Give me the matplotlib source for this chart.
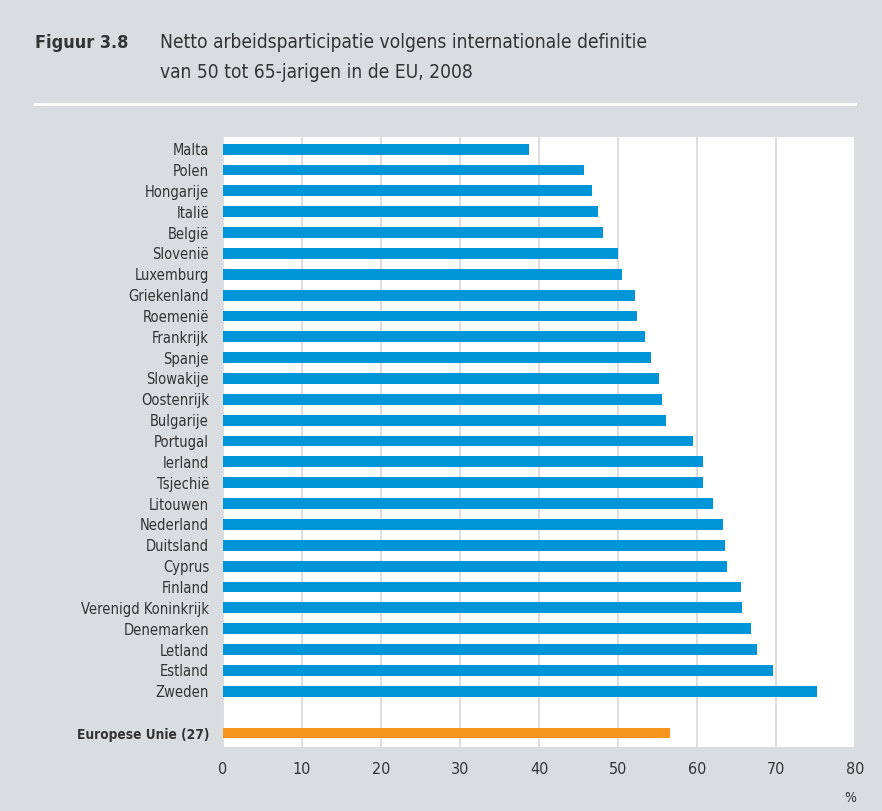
import numpy as np
import matplotlib.pyplot as plt

landen = ["Malta", "Polen", "Hongarije", "Italië", "België", "Slovenië", "Luxemburg",
          "Griekenland", "Roemenië", "Frankrijk", "Spanje", "Slowakije", "Oostenrijk",
          "Bulgarije", "Portugal", "Ierland", "Tsjechië", "Litouwen", "Nederland",
          "Duitsland", "Cyprus", "Finland", "Verenigd Koninkrijk", "Denemarken",
          "Letland", "Estland", "Zweden"]
waarden = [38.7, 45.7, 46.7, 47.5, 48.1, 50.0, 50.5, 52.2, 52.4, 53.4, 54.2, 55.2, 55.6,
           56.1, 59.5, 60.8, 60.8, 62.0, 63.3, 63.5, 63.8, 65.6, 65.7, 66.8, 67.6, 69.6, 75.2]
eu_label = "Europese Unie (27)"
eu_waarde = 56.6
xticks = [0, 10, 20, 30, 40, 50, 60, 70, 80]

bg = "#D9DDE0"
blauw = "#0095D9"
oranje = "#F7941D"
tekst = "#333333"

plt.rcParams['font.family'] = ['DejaVu Sans']
plt.rcParams['font.stretch'] = 'condensed'

fig = plt.figure(figsize=(8.82, 8.11), dpi=100, facecolor=bg)
# plot area in pixels: x 223-855, y 137-747
ax = fig.add_axes([223/882, 1 - 747/811, (855-223)/882, (747-137)/811])
ax.set_facecolor("white")

y = np.arange(len(landen))
ax.barh(y, waarden, height=0.52, color=blauw, zorder=3)
ax.barh([28], [eu_waarde], height=0.52, color=oranje, zorder=3)

ax.set_xlim(0, 80)
ax.set_ylim(28.67, -0.58)
ax.set_xticks(xticks)
ax.set_xticklabels([str(t) for t in xticks], fontsize=11.5, color=tekst)
ax.set_yticks(list(y) + [28])
ax.set_yticklabels(landen + [eu_label], fontsize=10.5, color=tekst)
ax.get_yticklabels()[-1].set_fontweight("bold")
ax.get_yticklabels()[-1].set_fontsize(9.8)
ax.tick_params(axis='y', length=0, pad=10)
ax.tick_params(axis='x', length=0, pad=11)
ax.grid(axis='x', color="#DCDEE0", linewidth=1.4, zorder=0)
for s in ax.spines.values():
    s.set_visible(False)

fig.text(850/882, 1 - 798/811, "%", fontsize=10, color=tekst, ha='center', va='center')

fig.text(35/882, 1 - 43/811, "Figuur 3.8", fontsize=13, fontweight='bold',
         color=tekst, va='center')
fig.text(160/882, 1 - 43/811, "Netto arbeidsparticipatie volgens internationale definitie",
         fontsize=13.8, color=tekst, va='center')
fig.text(160/882, 1 - 73/811, "van 50 tot 65-jarigen in de EU, 2008",
         fontsize=13.8, color=tekst, va='center')
fig.add_artist(plt.Line2D([35/882, 855/882], [1 - 104/811, 1 - 104/811],
                          color="white", linewidth=2))

fig.savefig("out.png", dpi=100, facecolor=bg)
